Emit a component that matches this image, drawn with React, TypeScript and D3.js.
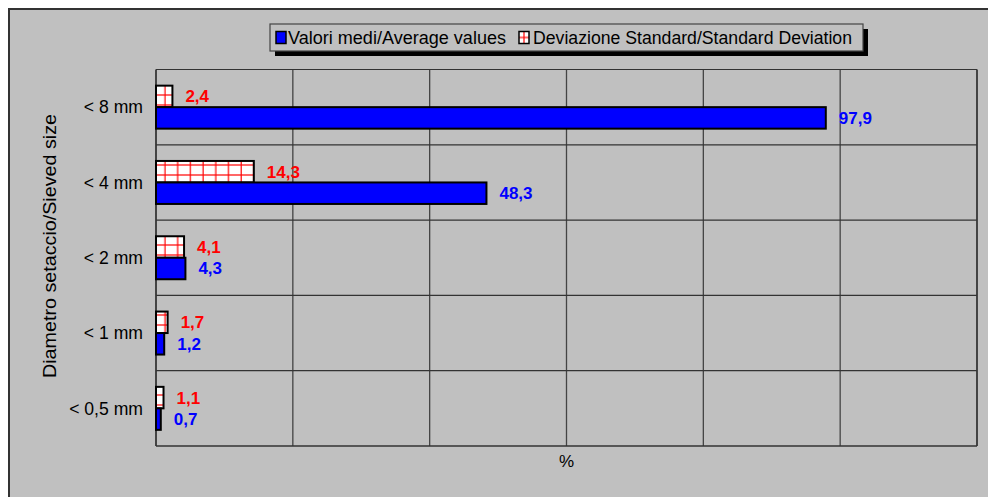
import React from "react";
import * as d3 from "d3";

const categories = ["< 8 mm", "< 4 mm", "< 2 mm", "< 1 mm", "< 0,5 mm"];
const averageValues = [97.9, 48.3, 4.3, 1.2, 0.7];
const stdDevValues = [2.4, 14.3, 4.1, 1.7, 1.1];
const xTicks = [0, 20, 40, 60, 80, 100, 120];
const seriesNames = ["Valori medi/Average values", "Deviazione Standard/Standard Deviation"];

const W = 988;
const H = 497;
const FONT = "Arial, 'Liberation Sans', sans-serif";
const fmt = (v: number) => v.toFixed(1).replace(".", ",");

export default function App() {
  const x = d3.scaleLinear().domain([0, 120]).range([156, 977]);
  const y = d3.scaleBand<string>().domain(categories).range([69.5, 446]).padding(0);
  const groupH = 43;
  const inner = d3.scaleBand<string>().domain(["sd", "avg"]).range([0, groupH]).padding(0);
  const groupTop = (c: string) => (y(c) as number) + y.bandwidth() / 2 - groupH / 2;

  const plotLeft = x(0);
  const plotRight = x(120);
  const plotTop = 69.5;
  const plotBottom = 446;

  return (
    <div>
      <style>{`body{margin:0}`}</style>
      <svg width={W} height={H} style={{ display: "block", fontFamily: FONT }}>
        <defs>
          <pattern id="sdPat" patternUnits="userSpaceOnUse" x={plotLeft} y={0} width={12.7} height={10}>
            <rect width={12.7} height={10} fill="#ffffff" />
            <line x1={9} x2={9} y1={0} y2={10} stroke="#ff0000" strokeWidth={1.2} />
            <line x1={0} x2={12.7} y1={5} y2={5} stroke="#ff0000" strokeWidth={1.2} />
          </pattern>
          <pattern id="legPat" patternUnits="userSpaceOnUse" x={519} y={31.5} width={10} height={12}>
            <rect width={10} height={12} fill="#ffffff" />
            <line x1={5} x2={5} y1={0} y2={12} stroke="#ff0000" strokeWidth={1.2} />
            <line x1={0} x2={10} y1={6} y2={6} stroke="#ff0000" strokeWidth={1.2} />
          </pattern>
        </defs>
        <rect x={0} y={0} width={W} height={H} fill="#ffffff" />
        <rect x={9} y={9} width={W + 20} height={H + 20} fill="#c0c0c0" stroke="#333333" strokeWidth={2} />

        {/* gridlines */}
        {xTicks.map((t) => (
          <line key={"gx" + t} x1={x(t)} x2={x(t)} y1={plotTop} y2={plotBottom} stroke={t === 0 || t === 120 ? "#000" : "#444"} strokeWidth={1.3} />
        ))}
        {categories.map((c) => (
          <line key={"gy" + c} x1={plotLeft} x2={plotRight} y1={y(c) as number} y2={y(c) as number} stroke="#333" strokeWidth={1.2} />
        ))}
        <line x1={plotLeft} x2={plotRight} y1={plotBottom} y2={plotBottom} stroke="#333" strokeWidth={1.5} />

        {/* bars */}
        {categories.map((c, i) => {
          const gt = groupTop(c);
          const ySd = gt + (inner("sd") as number);
          const yAv = gt + (inner("avg") as number);
          const bh = inner.bandwidth();
          return (
            <g key={"b" + c}>
              <rect x={x(0)} y={ySd} width={x(stdDevValues[i]) - x(0)} height={bh} fill="url(#sdPat)" stroke="#000" strokeWidth={2} />
              <rect x={x(0)} y={yAv} width={x(averageValues[i]) - x(0)} height={bh} fill="#0000ff" stroke="#000" strokeWidth={2} />
              <text x={x(stdDevValues[i]) + 13} y={ySd + bh / 2} dy="0.35em" fill="#ff0000" fontWeight="bold" fontSize={17}>
                {fmt(stdDevValues[i])}
              </text>
              <text x={x(averageValues[i]) + 13} y={yAv + bh / 2} dy="0.35em" fill="#0000ff" fontWeight="bold" fontSize={17}>
                {fmt(averageValues[i])}
              </text>
            </g>
          );
        })}

        {/* category labels */}
        {categories.map((c) => (
          <text key={"c" + c} x={143} y={(y(c) as number) + y.bandwidth() / 2} dy="0.35em" textAnchor="end" fontSize={17.6} fill="#000">
            {c}
          </text>
        ))}

        {/* axis titles */}
        <text x={(plotLeft + plotRight) / 2} y={461} dy="0.35em" textAnchor="middle" fontSize={17} fill="#000">%</text>
        <text transform={`translate(50, 246) rotate(-90)`} x={-132} dy="0.35em" fontSize={17.5} fill="#000" textLength={264} lengthAdjust="spacingAndGlyphs">
          Diametro setaccio/Sieved size
        </text>

        {/* legend */}
        <rect x={275} y={29} width={593} height={27} fill="#000" />
        <rect x={270} y={24} width={593} height={27} fill="#c0c0c0" stroke="#444" strokeWidth={1.2} />
        <rect x={276} y={31.5} width={10} height={12} fill="#0000ff" stroke="#000" strokeWidth={1.5} />
        <text x={288} y={37.5} dy="0.35em" fontSize={17.5} fill="#000" textLength={218} lengthAdjust="spacingAndGlyphs">{seriesNames[0]}</text>
        <rect x={519} y={31.5} width={10} height={12} fill="url(#legPat)" stroke="#000" strokeWidth={1.5} />
        <text x={533} y={37.5} dy="0.35em" fontSize={17.5} fill="#000" textLength={319} lengthAdjust="spacingAndGlyphs">{seriesNames[1]}</text>
      </svg>
    </div>
  );
}
